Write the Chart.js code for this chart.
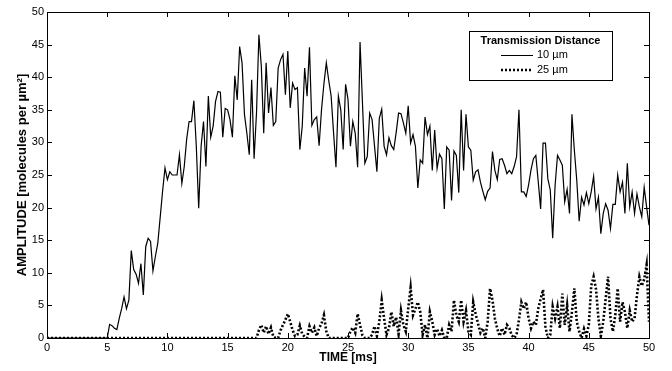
<!DOCTYPE html>
<html>
<head>
<meta charset="utf-8">
<script src="https://cdn.jsdelivr.net/npm/chart.js@4/dist/chart.umd.min.js"></script>
<style>
  html, body { margin: 0; padding: 0; background: #fff; }
  #wrap { width: 672px; height: 371px; position: relative; }
</style>
</head>
<body>
<div id="wrap"><canvas id="amp-chart"></canvas></div>
<script>
// sample spacing of both series, ms
var DT = 0.2;

// 10 um transmission distance, one value every 0.2 ms from 0 to 50 ms
var amp10 = [
  0, 0, 0, 0, 0, 0, 0, 0, 0, 0, 0, 0, 0, 0, 0, 0, 0, 0, 0, 0, 0, 0, 0, 0, 0, 0,
  2.1, 1.9, 1.5, 1.3, 3.0, 4.5, 6.3, 4.5, 5.8, 13.4, 10.5, 9.8, 8.4, 11.4, 6.6,
  14.0, 15.3, 14.8, 10.3, 12.5, 14.5, 18.5, 22.5, 26.1, 24.3, 25.5, 25.0, 25.0, 25.0,
  28.1, 23.7, 26.3, 30.5, 33.2, 33.2, 36.4, 29.4, 19.9, 29.4, 33.2, 26.3, 37.1, 30.8,
  32.5, 36.3, 37.8, 37.7, 30.8, 35.2, 35.0, 33.5, 30.8, 40.2, 36.5, 44.7, 42.2, 34.3,
  31.4, 28.1, 39.6, 27.5, 34.5, 46.5, 41.7, 31.4, 42.2, 34.5, 38.4, 32.6, 33.2, 41.4,
  42.7, 43.5, 37.3, 44.0, 35.3, 39.1, 38.1, 38.4, 28.9, 32.5, 41.4, 37.1, 44.6, 32.6,
  33.5, 33.9, 29.5, 35.0, 39.0, 42.2, 39.5, 37.1, 31.5, 26.2, 37.1, 35.0, 28.9, 38.9,
  36.6, 29.4, 33.2, 31.4, 26.2, 45.4, 36.1, 26.8, 27.8, 34.5, 33.5, 29.5, 25.5, 33.7,
  35.1, 29.4, 28.1, 30.7, 29.5, 28.9, 31.5, 34.5, 34.4, 33.0, 31.4, 35.6, 29.9, 31.2,
  29.4, 23.0, 27.3, 26.8, 33.9, 31.2, 32.5, 25.7, 31.9, 26.0, 28.2, 27.5, 19.8, 29.3,
  28.8, 21.1, 28.7, 28.0, 22.3, 35.0, 25.7, 34.3, 29.3, 28.8, 24.2, 25.5, 25.8, 23.9,
  22.5, 21.2, 22.5, 23.0, 28.6, 25.7, 24.3, 27.4, 27.5, 26.5, 25.2, 25.7, 25.2, 26.3,
  27.8, 35.0, 22.4, 22.4, 21.7, 23.5, 25.8, 27.5, 28.0, 24.0, 19.8, 29.9, 29.9, 24.4,
  22.7, 15.3, 23.4, 28.0, 27.3, 26.5, 20.9, 22.8, 19.1, 34.3, 28.8, 24.2, 17.9, 21.6,
  20.4, 22.3, 20.6, 22.4, 24.8, 19.8, 21.6, 16.0, 19.1, 20.6, 19.6, 16.8, 20.5, 20.5,
  25.0, 22.4, 23.9, 19.1, 26.8, 20.1, 22.4, 19.1, 22.1, 20.1, 18.6, 23.1, 20.1, 17.3
];

// 25 um transmission distance, same time grid
var amp25 = [
  0, 0, 0, 0, 0, 0, 0, 0, 0, 0, 0, 0, 0, 0, 0, 0, 0, 0, 0, 0, 0, 0, 0, 0, 0, 0,
  0, 0, 0, 0, 0, 0, 0, 0, 0, 0, 0, 0, 0, 0, 0, 0, 0, 0, 0, 0, 0, 0, 0, 0, 0, 0,
  0, 0, 0, 0, 0, 0, 0, 0, 0, 0, 0, 0, 0, 0, 0, 0, 0, 0, 0, 0, 0, 0, 0, 0, 0, 0,
  0, 0, 0, 0, 0, 0, 0, 0, 0, 0,
  1.2, 2.0, 0.8, 1.8, 0.6, 1.6, 0.2, 0, 0, 1.2, 2.0, 2.8, 3.7, 2.5, 1.2, 0.3, 0.5,
  1.9, 0.6, 0.2, 0, 1.8, 0.8, 1.6, 0.3, 1.5, 2.2, 3.5, 1.0, 0, 0, 0, 0, 0, 0, 0,
  0, 0, 1.0, 1.6, 0.8, 3.7, 2.0, 0.4, 0, 0, 0, 0.5, 1.8, 0.3, 2.5, 5.8, 3.0, 0.5,
  1.5, 4.0, 1.8, 3.2, 0.6, 4.2, 2.0, 1.0, 4.5, 7.7, 3.5, 4.5, 5.5, 4.0, 0.5, 2.0,
  0, 4.0, 2.5, 0.5, 1.4, 0.3, 1.2, 0, 0, 2.0, 1.0, 5.8, 3.5, 2.5, 5.8, 2.5, 4.2,
  1.0, 0.5, 5.5, 3.7, 2.2, 0.8, 1.5, 0, 2.5, 7.6, 5.8, 3.0, 1.4, 0.3, 1.5, 0.5,
  2.0, 1.5, 0.4, 0, 0.5, 2.8, 5.5, 4.5, 5.5, 3.0, 1.5, 2.5, 2.0, 4.5, 6.0, 7.4,
  1.7, 0, 0.5, 4.8, 3.0, 4.8, 1.5, 6.8, 2.0, 5.0, 1.0, 4.0, 7.6, 2.5, 1.0, 0, 1.4,
  0.3, 2.0, 8.0, 9.4, 7.5, 3.0, 0.3, 2.5, 6.0, 9.4, 3.0, 1.0, 3.5, 7.6, 2.5, 5.5,
  4.0, 1.5, 4.2, 2.5, 3.0, 6.5, 9.4, 8.0, 9.0, 11.2, 2.5
];

var xTicks = [0, 5, 10, 15, 20, 25, 30, 35, 40, 45, 50];
var yTicks = [0, 5, 10, 15, 20, 25, 30, 35, 40, 45, 50];
var seriesNames = ['10 \u00b5m', '25 \u00b5m'];

function toPoints(arr) {
  return arr.map(function (v, i) { return { x: Math.round(i * DT * 10) / 10, y: v }; });
}

var FONT = '"Liberation Sans", Arial, sans-serif';

// inward ticks on all four sides plus the frame (matlab look)
var frameTicks = {
  id: 'frameTicks',
  afterDraw: function (chart) {
    var c = chart.ctx, a = chart.chartArea;
    var xs = chart.scales.x, ys = chart.scales.y;
    c.save();
    c.strokeStyle = '#000';
    c.lineWidth = 1;
    c.beginPath();
    xTicks.forEach(function (t) {
      var px = Math.round(xs.getPixelForValue(t)) + 0.5;
      c.moveTo(px, a.bottom); c.lineTo(px, a.bottom - 5);
      c.moveTo(px, a.top); c.lineTo(px, a.top + 5);
    });
    yTicks.forEach(function (t) {
      var py = Math.round(ys.getPixelForValue(t)) + 0.5;
      c.moveTo(a.left, py); c.lineTo(a.left + 5, py);
      c.moveTo(a.right, py); c.lineTo(a.right - 5, py);
    });
    c.stroke();
    c.strokeRect(Math.round(a.left) + 0.5, Math.round(a.top) + 0.5,
      Math.round(a.right - a.left), Math.round(a.bottom - a.top));
    c.restore();
  }
};

// legend box inside the plot, top right
var boxLegend = {
  id: 'boxLegend',
  afterDraw: function (chart) {
    var c = chart.ctx;
    var bx = 469, by = 31, bw = 143, bh = 49;
    c.save();
    c.fillStyle = '#fff';
    c.fillRect(bx, by, bw, bh);
    c.strokeStyle = '#000';
    c.lineWidth = 1;
    c.strokeRect(bx + 0.5, by + 0.5, bw, bh);
    c.fillStyle = '#000';
    c.textBaseline = 'middle';
    c.textAlign = 'center';
    c.font = 'bold 11px ' + FONT;
    c.fillText('Transmission Distance', bx + bw / 2, by + 10);
    c.textAlign = 'left';
    c.font = '11px ' + FONT;
    c.beginPath();
    c.lineWidth = 1;
    c.moveTo(bx + 32, by + 24.5); c.lineTo(bx + 64, by + 24.5);
    c.stroke();
    c.fillText(seriesNames[0], bx + 68, by + 24);
    c.beginPath();
    c.lineWidth = 2.5;
    c.setLineDash([2, 2]);
    c.moveTo(bx + 32, by + 39); c.lineTo(bx + 64, by + 39);
    c.stroke();
    c.setLineDash([]);
    c.fillText(seriesNames[1], bx + 68, by + 39);
    c.restore();
  }
};

var bgWhite = {
  id: 'bgWhite',
  beforeDraw: function (chart) {
    var c = chart.ctx;
    c.save();
    c.fillStyle = '#fff';
    c.fillRect(0, 0, chart.width, chart.height);
    c.restore();
  }
};

var ctx = document.getElementById('amp-chart').getContext('2d');
var myChart = new Chart(ctx, {
  type: 'line',
  data: {
    datasets: [{
      label: seriesNames[0],
      data: toPoints(amp10),
      borderColor: '#000',
      borderWidth: 1.2,
      pointRadius: 0,
      tension: 0
    }, {
      label: seriesNames[1],
      data: toPoints(amp25),
      borderColor: '#000',
      borderWidth: 2.6,
      borderDash: [2, 2],
      pointRadius: 0,
      tension: 0
    }]
  },
  options: {
    responsive: true,
    maintainAspectRatio: false,
    animation: false,
    layout: { padding: { top: 12, right: 23, left: 15, bottom: 6 } },
    plugins: { legend: { display: false }, tooltip: { enabled: false } },
    scales: {
      x: {
        type: 'linear',
        min: 0, max: 50,
        afterBuildTicks: function (s) { s.ticks = xTicks.map(function (v) { return { value: v }; }); },
        afterFit: function (s) { s.height = 27; },
        grid: { display: false, drawTicks: false },
        border: { display: false },
        ticks: { color: '#000', font: { family: FONT, size: 11 }, padding: 3, maxRotation: 0 },
        title: {
          display: true, text: 'TIME [ms]', color: '#000',
          font: { family: FONT, size: 12, weight: 'bold' }, padding: { top: 0, bottom: 0 }
        }
      },
      y: {
        min: 0, max: 50,
        afterBuildTicks: function (s) { s.ticks = yTicks.map(function (v) { return { value: v }; }); },
        afterFit: function (s) { s.width = 32; },
        grid: { display: false, drawTicks: false },
        border: { display: false },
        ticks: { color: '#000', font: { family: FONT, size: 11 }, padding: 3 },
        title: {
          display: true, text: 'AMPLITUDE [molecules per \u00b5m\u00b2]', color: '#000',
          font: { family: FONT, size: 13, weight: 'bold' }, padding: { top: 0, bottom: 0 }
        }
      }
    }
  },
  plugins: [bgWhite, frameTicks, boxLegend]
});
</script>
</body>
</html>
